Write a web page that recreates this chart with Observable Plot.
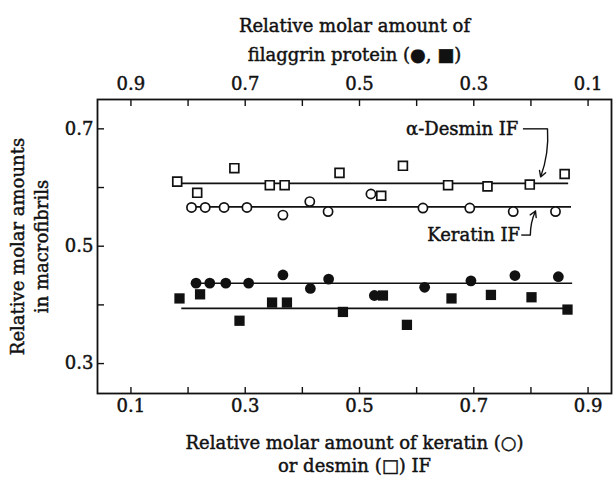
<!DOCTYPE html>
<html><head><meta charset="utf-8">
<script src="https://cdn.jsdelivr.net/npm/d3@7"></script>
<script src="https://cdn.jsdelivr.net/npm/@observablehq/plot@0.6"></script>
<style>body{margin:0;background:#fff} svg{display:block} svg text{stroke:#111;stroke-width:0.45px;paint-order:stroke}</style>
</head><body><div id="chart"></div>
<script>
// Open squares: desmin IF (bottom axis, keratin/desmin amount)
const desminX = [0.181, 0.216, 0.281, 0.343, 0.369, 0.465, 0.538, 0.576, 0.655, 0.724, 0.798, 0.859];
const desminY = [0.610, 0.591, 0.633, 0.604, 0.604, 0.625, 0.586, 0.637, 0.604, 0.602, 0.605, 0.623];
// Open circles: keratin IF
const keratinX = [0.206, 0.230, 0.263, 0.303, 0.366, 0.413, 0.445, 0.520, 0.611, 0.693, 0.769, 0.843];
const keratinY = [0.566, 0.566, 0.566, 0.566, 0.553, 0.576, 0.559, 0.589, 0.565, 0.565, 0.559, 0.559];
// Filled circles: filaggrin (top axis) with keratin
const filCircF = [0.786, 0.762, 0.734, 0.694, 0.634, 0.586, 0.554, 0.474, 0.386, 0.305, 0.228, 0.152];
const filCircY = [0.437, 0.437, 0.437, 0.437, 0.451, 0.428, 0.444, 0.416, 0.430, 0.441, 0.450, 0.448];
// Filled squares: filaggrin with desmin
const filSqF = [0.815, 0.779, 0.710, 0.653, 0.627, 0.529, 0.459, 0.417, 0.339, 0.270, 0.199, 0.136];
const filSqY = [0.411, 0.418, 0.373, 0.404, 0.404, 0.388, 0.416, 0.366, 0.411, 0.417, 0.413, 0.392];
// Fitted horizontal lines (bottom-axis coordinates)
const fitLevel = [0.607, 0.567, 0.437, 0.394];
const fitStart = [0.186, 0.206, 0.214, 0.189];
const fitEnd   = [0.866, 0.871, 0.873, 0.869];
// Tick values
const xMinorTicks = [0.1, 0.2, 0.3, 0.4, 0.5, 0.6, 0.7, 0.8, 0.9];
const xLabelTicks = [0.1, 0.3, 0.5, 0.7, 0.9];
const topMinorTicks = [0.9, 0.8, 0.7, 0.6, 0.5, 0.4, 0.3, 0.2, 0.1];
const topLabelTicks = [0.9, 0.7, 0.5, 0.3, 0.1];
const yMinorTicks = [0.3, 0.4, 0.5, 0.6, 0.7];
const yLabelTicks = [0.3, 0.5, 0.7];
// Annotations
const annotText = ["α-Desmin IF", "Keratin IF"];
const annotX = [0.778, 0.781];
const annotY = [0.700, 0.518];
const leaderX1 = [0.786, 0.783];
const leaderX2 = [0.829, 0.799];
const leaderY = [0.700, 0.519];
const arrowX1 = [0.829, 0.799];
const arrowY1 = [0.700, 0.519];
const arrowX2 = [0.817, 0.808];
const arrowY2 = [0.618, 0.560];

const FONT = "DejaVu Serif";
const fmt = d => d.toFixed(1);
const ink = "#111";

const chart = Plot.plot({
  width: 615, height: 478,
  marginTop: 99, marginBottom: 85, marginLeft: 97, marginRight: 4,
  style: {fontFamily: FONT, fontSize: "18px", background: "white", color: ink},
  x: {domain: [0.0415, 0.941]},
  y: {domain: [0.249, 0.75]},
  marks: [
    Plot.frame({stroke: ink, strokeWidth: 1.8}),
    Plot.axisX(xMinorTicks, {anchor: "bottom", tickSize: -6, tickFormat: () => "", label: null, strokeWidth: 1.4}),
    Plot.axisX(xLabelTicks, {anchor: "bottom", tickSize: 0, tickPadding: 6, tickFormat: fmt, label: null, fontSize: 18}),
    Plot.axisX(topMinorTicks.map(f => 1 - f), {anchor: "top", tickSize: -6, tickFormat: () => "", label: null, strokeWidth: 1.4}),
    Plot.axisX(topLabelTicks.map(f => 1 - f), {anchor: "top", tickSize: 0, tickPadding: 10, tickFormat: d => fmt(1 - d), label: null, fontSize: 18}),
    Plot.axisY(yMinorTicks, {anchor: "left", tickSize: -7, tickFormat: () => "", label: null, strokeWidth: 1.4}),
    Plot.axisY(yLabelTicks, {anchor: "left", tickSize: 0, tickPadding: 4, tickFormat: fmt, label: null, fontSize: 18}),
    Plot.ruleY(fitLevel, {y: d => d, x1: fitStart, x2: fitEnd, stroke: ink, strokeWidth: 1.6}),
    Plot.dot(desminX, {x: d => d, y: desminY, symbol: "square", r: 5, fill: "white", stroke: ink, strokeWidth: 1.7}),
    Plot.dot(keratinX, {x: d => d, y: keratinY, symbol: "circle", r: 4.6, fill: "white", stroke: ink, strokeWidth: 1.7}),
    Plot.dot(filCircF, {x: f => 1 - f, y: filCircY, symbol: "circle", r: 5.4, fill: ink, stroke: "none"}),
    Plot.dot(filSqF, {x: f => 1 - f, y: filSqY, symbol: "square", r: 5.8, fill: ink, stroke: "none"}),
    Plot.text(annotText, {x: annotX, y: annotY, text: d => d, textAnchor: "end", fontSize: 18, fill: ink}),
    Plot.link(leaderX1, {x1: d => d, x2: leaderX2, y1: leaderY, y2: leaderY, stroke: ink, strokeWidth: 1.4}),
    Plot.arrow(arrowX1, {x1: d => d, y1: arrowY1, x2: arrowX2, y2: arrowY2, bend: 12, headLength: 7, stroke: ink, strokeWidth: 1.4}),
    Plot.text(["Relative molar amount of"], {text: d => d, frameAnchor: "top", lineAnchor: "middle", dy: -73, fontSize: 18, fill: ink}),
    Plot.text(["filaggrin protein (●, ■)"], {text: d => d, frameAnchor: "top", lineAnchor: "middle", dy: -44, fontSize: 18, fill: ink}),
    Plot.text(["Relative molar amount of keratin (○)"], {text: d => d, frameAnchor: "bottom", lineAnchor: "middle", dy: 50, fontSize: 18, fill: ink}),
    Plot.text(["or desmin (□) IF"], {text: d => d, frameAnchor: "bottom", lineAnchor: "middle", dy: 73, fontSize: 18, fill: ink}),
    Plot.text(["Relative molar amounts"], {text: d => d, frameAnchor: "left", textAnchor: "middle", lineAnchor: "middle", dx: -79, rotate: -90, fontSize: 18, fill: ink}),
    Plot.text(["in macrofibrils"], {text: d => d, frameAnchor: "left", textAnchor: "middle", lineAnchor: "middle", dx: -55, rotate: -90, fontSize: 18, fill: ink})
  ]
});
document.getElementById("chart").appendChild(chart);
</script>
</body></html>
